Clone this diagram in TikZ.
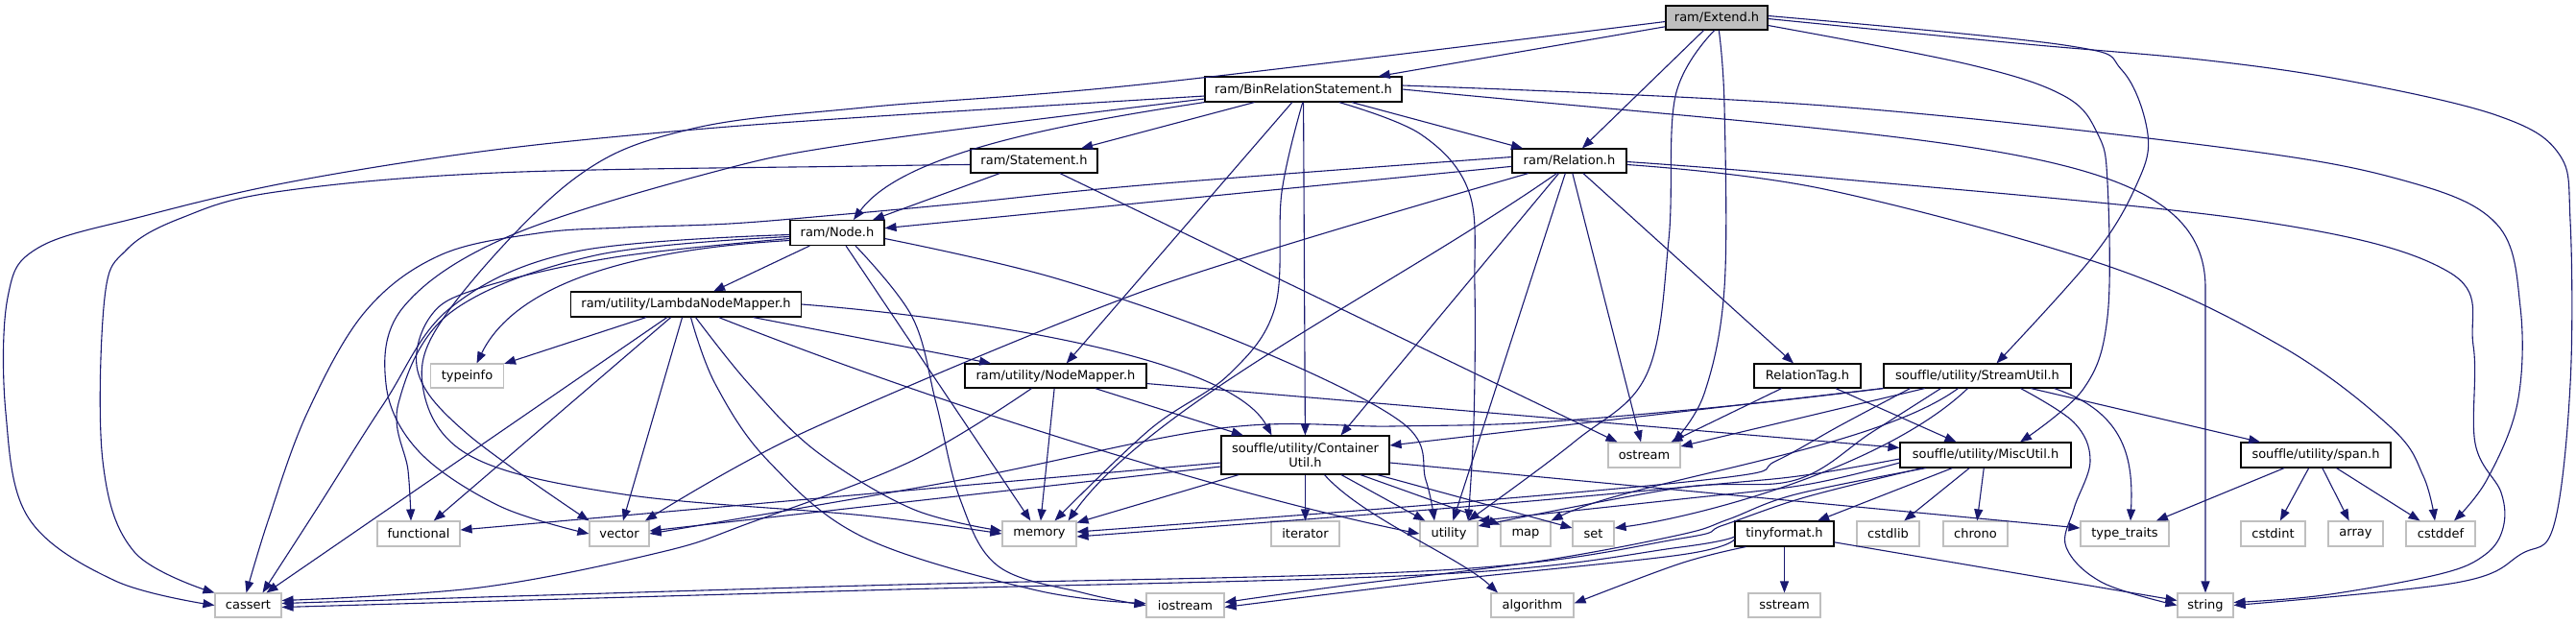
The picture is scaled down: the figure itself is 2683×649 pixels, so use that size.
\documentclass[tikz,border=0pt]{standalone}
\usepackage{fontspec}
\setmainfont{DejaVu Sans}[Ligatures=NoCommon]
\usetikzlibrary{arrows.meta}
\definecolor{edgeblue}{HTML}{191970}
\definecolor{sysgray}{HTML}{BFBFBF}
\tikzset{
  box/.style={rectangle, draw=black, line width=1.1pt, inner sep=0pt, text=black,
    font=\fontsize{13}{15.6}\selectfont, align=center},
  sys/.style={box, draw=sysgray},
  main/.style={box, fill=sysgray},
  edge/.style={draw=edgeblue, line width=1.1pt, -{Triangle[length=12pt,width=9pt]}},
}
\begin{document}
\begin{tikzpicture}[x=1pt,y=-1pt]
\fill[white] (0,0) rectangle (2683,649);
\useasboundingbox (0,0) rectangle (2683,649);
% ---------- nodes ----------
\node[main, minimum width=106pt, minimum height=25pt] (extend) at (1788,18.5) {ram/Extend.h};
\node[box, minimum width=205pt, minimum height=26pt] (binrel) at (1357.5,93) {ram/BinRelationStatement.h};
\node[box, minimum width=132pt, minimum height=25pt] (stmt) at (1077,167.5) {ram/Statement.h};
\node[box, minimum width=119pt, minimum height=25pt] (rel) at (1634.5,167.5) {ram/Relation.h};
\node[box, minimum width=98pt, minimum height=26pt] (node) at (872,242.5) {ram/Node.h};
\node[box, minimum width=240pt, minimum height=26pt] (lnm) at (714.5,317) {ram/utility/LambdaNodeMapper.h};
\node[sys, minimum width=76pt, minimum height=25pt] (typeinfo) at (486.5,391.5) {typeinfo};
\node[box, minimum width=189pt, minimum height=25pt] (nodemapper) at (1099.5,391.5) {ram/utility/NodeMapper.h};
\node[box, minimum width=111pt, minimum height=25pt] (reltag) at (1882.5,391.5) {RelationTag.h};
\node[box, minimum width=195pt, minimum height=25pt] (streamutil) at (2059.5,391.5) {souffle/utility/StreamUtil.h};
\node[box, minimum width=175pt, minimum height=40pt] (containerutil) at (1359.5,474) {souffle/utility/Container\\Util.h};
\node[sys, minimum width=75pt, minimum height=26pt] (ostream) at (1712.5,474) {ostream};
\node[box, minimum width=178pt, minimum height=26pt] (miscutil) at (2068,474) {souffle/utility/MiscUtil.h};
\node[box, minimum width=156pt, minimum height=26pt] (span) at (2412,474) {souffle/utility/span.h};
\node[sys, minimum width=86pt, minimum height=26pt] (functional) at (436,556) {functional};
\node[sys, minimum width=62pt, minimum height=26pt] (vector) at (645,556) {vector};
\node[sys, minimum width=77pt, minimum height=26pt] (memory) at (1082.5,556) {memory};
\node[sys, minimum width=71pt, minimum height=26pt] (iterator) at (1359.5,556) {iterator};
\node[sys, minimum width=60pt, minimum height=26pt] (utility) at (1509,556) {utility};
\node[sys, minimum width=52pt, minimum height=26pt] (map) at (1589,556) {map};
\node[sys, minimum width=43pt, minimum height=26pt] (set) at (1659.5,556) {set};
\node[box, minimum width=103pt, minimum height=26pt] (tinyformat) at (1858.5,556) {tinyformat.h};
\node[sys, minimum width=65pt, minimum height=26pt] (cstdlib) at (1966.5,556) {cstdlib};
\node[sys, minimum width=67pt, minimum height=26pt] (chrono) at (2057.5,556) {chrono};
\node[sys, minimum width=92pt, minimum height=26pt] (typetraits) at (2213,556) {type\_traits};
\node[sys, minimum width=67pt, minimum height=26pt] (cstdint) at (2367.5,556) {cstdint};
\node[sys, minimum width=57pt, minimum height=26pt] (array) at (2453.5,556) {array};
\node[sys, minimum width=72pt, minimum height=26pt] (cstddef) at (2542,556) {cstddef};
\node[sys, minimum width=69pt, minimum height=25pt] (cassert) at (258.5,630.5) {cassert};
\node[sys, minimum width=81pt, minimum height=25pt] (iostream) at (1234.5,630.5) {iostream};
\node[sys, minimum width=86pt, minimum height=25pt] (algorithm) at (1596,630.5) {algorithm};
\node[sys, minimum width=75pt, minimum height=25pt] (sstream) at (1858.5,630.5) {sstream};
\node[sys, minimum width=58pt, minimum height=25pt] (string) at (2297,630.5) {string};
% ---------- edges: Extend ----------
\draw[edge] (extend) -- (binrel);
\draw[edge] (extend) -- (rel);
\draw[edge] plot[smooth,tension=0.6] coordinates {([yshift=-4pt]extend.west) (1198,87) (900,112) (717,135) (597,187) (470,320) (440,400) (490,475) (650,515) (900,537) (memory.west)};
\draw[edge] plot[smooth,tension=0.6] coordinates {(extend.-80) (1796,110) (1796,300) (1775,410) ([xshift=30pt]ostream.north)};
\draw[edge] plot[smooth,tension=0.6] coordinates {(extend.-100) (1745,100) (1738,250) (1715,390) (1640,460) ([xshift=20pt]utility.north)};
\draw[edge] plot[smooth,tension=0.6] coordinates {([yshift=2pt]extend.east) (2150,47) (2210,73) (2237,140) (2225,193) (2180,267) ([xshift=20pt]streamutil.north)};
\draw[edge] plot[smooth,tension=0.6] coordinates {([yshift=-8pt]extend.east) (2050,67) (2150,100) (2185,140) (2195,190) (2195,330) (2170,405) ([xshift=36pt]miscutil.north)};
\draw[edge] plot[smooth,tension=0.6] coordinates {([yshift=-1pt]extend.east) (2100,45) (2300,63) (2450,85) (2600,120) (2665,160) (2677,230) (2677,400) (2660,547) (2626,577) (2558,607) (string.east)};
% ---------- BinRelationStatement ----------
\draw[edge] (binrel) -- (stmt);
\draw[edge] (binrel) -- (rel);
\draw[edge] (binrel.south west) .. controls (1100,130) and (940,160) .. ([xshift=17pt]node.north);
\draw[edge] (binrel) -- (nodemapper);
\draw[edge] (binrel) -- (containerutil);
\draw[edge] plot[smooth,tension=0.6] coordinates {(binrel.-93) (1335,200) (1328,320) (1280,390) (1198,447) ([xshift=16pt]memory.north)};
\draw[edge] plot[smooth,tension=0.6] coordinates {(binrel.-20) (1480,140) (1530,200) (1536,300) (1535,440) ([xshift=20pt]utility.north)};
\draw[edge] plot[smooth,tension=0.6] coordinates {([yshift=-7pt]binrel.west) (900,122) (700,137) (500,158) (300,190) (150,225) (40,258) (8,310) (6,430) (30,540) (120,605) (cassert.west)};
\draw[edge] plot[smooth,tension=0.6] coordinates {([yshift=-10pt]binrel.west) (900,148) (740,180) (528,247) (420,320) (402,400) (436,470) (520,527) (vector.west)};
\draw[edge] (binrel.east) .. controls (2050,150) and (2297,150) .. (2297,300) -- (string.north);
\draw[edge] plot[smooth,tension=0.6] coordinates {([yshift=4pt]binrel.east) (1900,110) (2310,153) (2500,187) (2600,233) (2625,320) (2622,420) (2590,500) ([xshift=14pt]cstddef.north)};
% ---------- Statement ----------
\draw[edge] (stmt) -- (node);
\draw[edge] (stmt) -- (ostream);
\draw[edge] plot[smooth,tension=0.6] coordinates {([yshift=-4pt]stmt.west) (900,173) (517,180) (287,200) (189,227) (132,260) (109,310) (107,480) (140,575) (cassert.north west)};
% ---------- Relation ----------
\draw[edge] (rel) -- (node);
\draw[edge] plot[smooth,tension=0.6] coordinates {([yshift=4pt]rel.west) (1200,192) (1000,212) (870,224) (760,233) (650,237) (560,243) (458,266) (380,325) (320,430) (280,540) ([xshift=-2pt]cassert.north)};
\draw[edge] plot[smooth,tension=0.5] coordinates {(rel.-163) (1200,300) (838,450) ([xshift=27pt]vector.north)};
\draw[edge] (rel.-135) .. controls (1450,300) and (1200,420) .. ([xshift=30pt]memory.north);
\draw[edge] (rel.-130) -- ([xshift=37pt]containerutil.north);
\draw[edge] (rel) -- (utility);
\draw[edge] (rel) -- (ostream);
\draw[edge] (rel) -- (reltag);
\draw[edge] plot[smooth,tension=0.6] coordinates {([yshift=-4pt]rel.east) (1900,197) (2195,277) (2375,360) (2490,445) (2524,496) ([xshift=-6pt]cstddef.north)};
\draw[edge] plot[smooth,tension=0.6] coordinates {([yshift=-1pt]rel.east) (1900,185) (2350,230) (2550,283) (2576,360) (2578,462) (2605,513) (2607,550) (2588,578) (2541,598) (2420,620) ([yshift=3pt]string.east)};
% ---------- Node ----------
\draw[edge] (node) -- (lnm);
\draw[edge] (node) -- (memory);
\draw[edge] plot[smooth,tension=0.6] coordinates {([xshift=19pt]node.south) (950,330) (975,420) (1000,520) (1040,590) (1130,618) (iostream.west)};
\draw[edge] plot[smooth,tension=0.6] coordinates {([yshift=-6pt]node.east) (1100,290) (1300,360) (1460,440) (1485,500) ([xshift=-15pt]utility.north)};
\draw[edge] ([yshift=-8pt]node.west) .. controls (620,262) and (530,310) .. ([xshift=10pt]typeinfo.north);
\draw[edge] plot[smooth,tension=0.6] coordinates {([yshift=-2pt]node.west) (600,262) (470,320) (400,420) (330,530) ([xshift=15pt]cassert.north)};
\draw[edge] plot[smooth,tension=0.6] coordinates {([yshift=-4pt]node.west) (620,266) (470,325) (415,420) (425,490) ([xshift=-8pt]functional.north)};
\draw[edge] plot[smooth,tension=0.6] coordinates {([yshift=-6pt]node.west) (640,268) (500,300) (448,330) (436,390) (488,453) (vector.north west)};
% ---------- LambdaNodeMapper ----------
\draw[edge] (lnm) -- (nodemapper);
\draw[edge] (lnm.east) .. controls (1000,330) and (1280,370) .. ([xshift=-35pt]containerutil.north);
\draw[edge] (lnm) -- (typeinfo);
\draw[edge] (lnm) -- (cassert);
\draw[edge] (lnm) -- (functional);
\draw[edge] (lnm) -- (vector);
\draw[edge] plot[smooth,tension=0.6] coordinates {([xshift=5pt]lnm.south) (745,400) (800,480) (900,560) (1080,615) ([yshift=2pt]iostream.west)};
\draw[edge] plot[smooth,tension=0.6] coordinates {([xshift=10pt]lnm.south) (780,400) (850,470) (950,530) ([yshift=3pt]memory.west)};
\draw[edge] ([xshift=34pt]lnm.south) .. controls (1000,430) and (1300,520) .. (utility.west);
% ---------- NodeMapper ----------
\draw[edge] (nodemapper) -- (containerutil);
\draw[edge] (nodemapper) -- (miscutil);
\draw[edge] (nodemapper) -- (memory);
\draw[edge] plot[smooth,tension=0.6] coordinates {([xshift=-25pt]nodemapper.south) (950,480) (780,545) (689,575) (500,612) ([yshift=5pt]cassert.east)};
% ---------- RelationTag ----------
\draw[edge] (reltag) -- (miscutil);
\draw[edge] (reltag) -- (ostream);
% ---------- StreamUtil ----------
\draw[edge] (streamutil.south west) -- ([yshift=10pt]containerutil.east);
\draw[edge] (streamutil) -- (ostream);
\draw[edge] (streamutil) -- (span);
\draw[edge] ([xshift=80pt]streamutil.south) .. controls (2215,430) and (2222,480) .. ([xshift=6pt]typetraits.north);
\draw[edge] plot[smooth,tension=0.6] coordinates {([xshift=45pt]streamutil.south) (2160,440) (2177,480) (2160,530) (2152,570) (2190,607) (string.west)};
\draw[edge] plot[smooth,tension=0.6] coordinates {(streamutil.south west) (1800,423) (1600,440) (1450,444) (1272,446) (1000,500) (vector.east)};
\draw[edge] plot[smooth,tension=0.6] coordinates {([xshift=-70pt]streamutil.south) (1917,443) (1850,480) (1800,497) (1500,525) ([yshift=2pt]memory.east)};
\draw[edge] plot[smooth,tension=0.6] coordinates {([xshift=-38pt]streamutil.south) (1950,450) (1870,500) (1750,508) ([yshift=8pt]utility.east)};
\draw[edge] ([xshift=-20pt]streamutil.south) .. controls (1950,470) and (1700,500) .. (map.north east);
\draw[edge] ([xshift=-10pt]streamutil.south) .. controls (1960,490) and (1760,540) .. ([yshift=6pt]set.east);
% ---------- MiscUtil ----------
\draw[edge] (miscutil) -- (tinyformat);
\draw[edge] (miscutil) -- (cstdlib);
\draw[edge] (miscutil) -- (chrono);
\draw[edge] plot[smooth,tension=0.6] coordinates {([yshift=-4pt]miscutil.west) (1880,495) (1780,505) (1500,530) ([yshift=-3pt]memory.east)};
\draw[edge] plot[smooth,tension=0.6] coordinates {([yshift=-8pt]miscutil.west) (1880,505) (1750,520) (utility.north east)};
\draw[edge] plot[smooth,tension=0.6] coordinates {([xshift=-62pt]miscutil.south) (1870,515) (1800,541) (1750,557) (1600,585) (1400,610) ([yshift=3pt]iostream.east)};
\draw[edge] plot[smooth,tension=0.6] coordinates {([xshift=-66pt]miscutil.south) (1880,518) (1795,547) (1750,561) (1500,594) (900,610) ([yshift=2pt]cassert.east)};
% ---------- ContainerUtil ----------
\draw[edge] ([yshift=-8pt]containerutil.west) -- ([yshift=4pt]functional.east);
\draw[edge] ([yshift=-12pt]containerutil.west) -- ([yshift=3pt]vector.east);
\draw[edge] (containerutil) -- (memory);
\draw[edge] (containerutil) -- (iterator);
\draw[edge] ([xshift=20pt]containerutil.south) .. controls (1420,540) and (1520,580) .. ([xshift=-36pt]algorithm.north);
\draw[edge] (containerutil) -- (utility);
\draw[edge] (containerutil) -- (map);
\draw[edge] (containerutil) -- (set);
\draw[edge] ([yshift=-8pt]containerutil.east) -- ([yshift=6pt]typetraits.west);
% ---------- span ----------
\draw[edge] (span) -- (typetraits);
\draw[edge] (span) -- (cstdint);
\draw[edge] (span) -- (array);
\draw[edge] (span) -- (cstddef);
% ---------- tinyformat ----------
\draw[edge] (tinyformat) -- (sstream);
\draw[edge] (tinyformat) -- (string);
\draw[edge] plot[smooth,tension=0.6] coordinates {([yshift=-3pt]tinyformat.west) (1750,570) (1500,598) (900,615) ([yshift=-2pt]cassert.east)};
\draw[edge] plot[smooth,tension=0.6] coordinates {([yshift=-6pt]tinyformat.west) (1750,578) (1500,605) ([yshift=-2pt]iostream.east)};
\draw[edge] plot[smooth,tension=0.6] coordinates {([xshift=-40pt]tinyformat.south) (1750,587) ([yshift=2pt]algorithm.east)};
\end{tikzpicture}
\end{document}
